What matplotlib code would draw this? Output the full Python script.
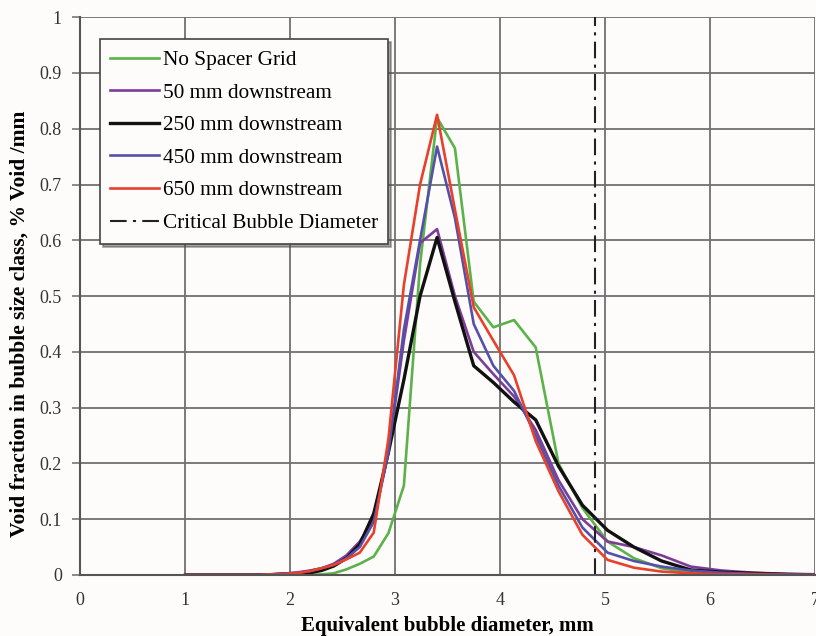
import matplotlib
matplotlib.use("Agg")
import matplotlib.pyplot as plt

# Equivalent bubble diameter class centres, mm
diameter = [1.004, 1.054, 1.107, 1.162, 1.220, 1.281, 1.345, 1.413, 1.483, 1.557,
            1.635, 1.717, 1.803, 1.893, 1.988, 2.087, 2.192, 2.301, 2.416, 2.537,
            2.664, 2.797, 2.937, 3.084, 3.238, 3.400, 3.570, 3.749, 3.936, 4.133,
            4.339, 4.556, 4.784, 5.023, 5.274, 5.538, 5.815, 6.106, 6.411, 6.732,
            7.068]

# Void fraction per size class, % void / mm
no_grid = [0, 0, 0, 0, 0, 0, 0, 0, 0, 0,
           0, 0, 0, 0, 0, 0, 0, 0.001, 0.003, 0.010,
           0.020, 0.033, 0.075, 0.160, 0.557, 0.820, 0.765, 0.490, 0.444, 0.457,
           0.408, 0.200, 0.120, 0.060, 0.030, 0.012, 0.004, 0.002, 0.001, 0, 0]
d50 = [0, 0, 0, 0, 0, 0, 0, 0, 0, 0,
       0, 0, 0.001, 0.002, 0.003, 0.005, 0.008, 0.012, 0.020, 0.035,
       0.060, 0.100, 0.220, 0.420, 0.595, 0.620, 0.500, 0.400, 0.360, 0.320,
       0.260, 0.170, 0.100, 0.060, 0.050, 0.035, 0.015, 0.008, 0.004, 0.002, 0.001]
d250 = [0, 0, 0, 0, 0, 0, 0, 0, 0, 0,
        0, 0, 0, 0.001, 0.002, 0.002, 0.004, 0.008, 0.016, 0.030,
        0.055, 0.110, 0.220, 0.350, 0.500, 0.605, 0.490, 0.375, 0.345, 0.310,
        0.278, 0.195, 0.125, 0.080, 0.050, 0.025, 0.009, 0.005, 0.003, 0.001, 0]
d450 = [0, 0, 0, 0, 0, 0, 0, 0, 0, 0,
        0, 0, 0.001, 0.002, 0.003, 0.004, 0.007, 0.012, 0.018, 0.030,
        0.050, 0.095, 0.220, 0.440, 0.600, 0.768, 0.640, 0.450, 0.375, 0.330,
        0.250, 0.160, 0.085, 0.040, 0.025, 0.015, 0.008, 0.004, 0.002, 0.001, 0]
d650 = [0, 0, 0, 0, 0, 0, 0, 0, 0, 0,
        0, 0, 0.001, 0.001, 0.002, 0.004, 0.007, 0.012, 0.018, 0.028,
        0.040, 0.076, 0.244, 0.520, 0.700, 0.825, 0.655, 0.480, 0.420, 0.358,
        0.240, 0.150, 0.072, 0.027, 0.013, 0.006, 0.003, 0.001, 0.001, 0, 0]

critical_diameter = 4.9

series = [
    ("No Spacer Grid", no_grid, "#5cb24a", 1.9),
    ("50 mm downstream", d50, "#7d3c98", 1.9),
    ("250 mm downstream", d250, "#111111", 2.4),
    ("450 mm downstream", d450, "#5550a8", 1.9),
    ("650 mm downstream", d650, "#e8402a", 1.9),
]

plt.rcParams["font.family"] = ["Liberation Serif", "DejaVu Serif"]

fig = plt.figure(figsize=(8.16, 6.36), dpi=100, facecolor="#fdfcfa")
ax = fig.add_axes([0.098, 0.096, 0.901, 0.877])
ax.set_facecolor("#fdfcfa")

for label, vals, color, lw in series:
    ax.plot(diameter, vals, color=color, lw=lw, label=label, solid_joinstyle="round")

ax.axvline(critical_diameter, color="#222222", lw=1.5, ls=(0, (8, 3, 1.5, 3)),
           label="Critical Bubble Diameter")

ax.set_xlim(0, 7)
ax.set_ylim(0, 1)
ax.set_xticks(range(0, 8))
ax.set_yticks([i / 10 for i in range(11)])
ax.set_yticklabels(["0", "0.1", "0.2", "0.3", "0.4", "0.5", "0.6", "0.7", "0.8", "0.9", "1"])
ax.grid(True, color="#707070", lw=1.3)
ax.set_axisbelow(True)

for side in ("top", "right"):
    ax.spines[side].set_visible(False)
for side in ("left", "bottom"):
    ax.spines[side].set_color("#555555")
    ax.spines[side].set_linewidth(1.5)

ax.tick_params(axis="y", length=6, width=1.2, color="#777777", labelsize=13,
               labelcolor="#333333", pad=7)
ax.tick_params(axis="x", length=0, labelsize=13, labelcolor="#333333", pad=12)

ax.set_xlabel("Equivalent bubble diameter, mm", fontsize=15, fontweight="bold")
ax.xaxis.set_label_coords(0.5, -0.073)
ax.set_ylabel("Void fraction in bubble size class, % Void /mm", fontsize=15.5,
              fontweight="bold")
ax.yaxis.set_label_coords(-0.068, 0.45)

leg = ax.legend(loc="upper left", bbox_to_anchor=(0.027, 0.96), fontsize=15.3,
                frameon=True, fancybox=False, shadow=True, handlelength=2.3,
                handletextpad=0.15, labelspacing=0.6, borderpad=0.5,
                borderaxespad=0)
leg.get_frame().set_edgecolor("#444444")
leg.get_frame().set_linewidth(1.2)
leg.get_frame().set_facecolor("#fdfcfa")
leg.get_frame().set_alpha(1)

fig.savefig("out.png", dpi=100, facecolor=fig.get_facecolor())
